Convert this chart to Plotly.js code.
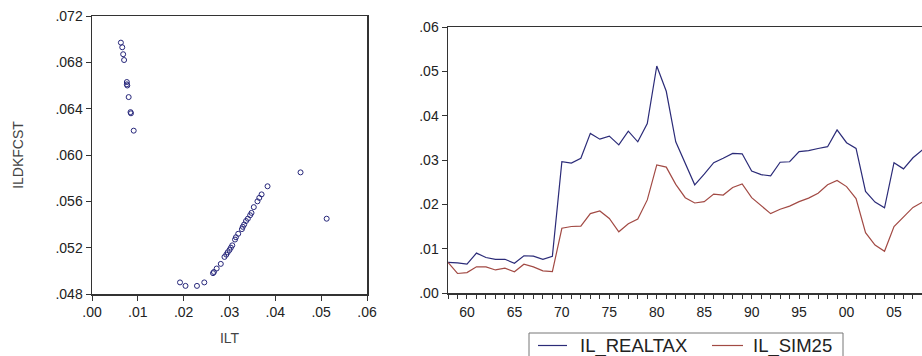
<!DOCTYPE html>
<html>
<head>
<meta charset="utf-8">
<script src="https://cdn.plot.ly/plotly-3.0.1.min.js"></script>
<style>html,body{margin:0;padding:0;background:#fff;}#chart{width:922px;height:356px;}</style>
</head>
<body>
<div id="chart"></div>
<script>
// Scatter: ILT (x) vs ILDKFCST (y)
const iltValues = [0.0063,0.0066,0.0068,0.0070,0.0076,0.0076,0.0077,0.0080,0.0084,0.0085,0.0091,
  0.0192,0.0204,0.0229,0.0245,0.0264,0.0266,0.0272,0.0281,0.0289,0.0293,0.0296,0.0300,0.0303,0.0306,
  0.0312,0.0314,0.0319,0.0327,0.0329,0.0332,0.0336,0.0340,0.0345,0.0348,0.0353,0.0361,0.0365,0.0370,
  0.0383,0.0455,0.0512];
const ildkfcstValues = [0.0697,0.0693,0.0687,0.0682,0.0663,0.0661,0.0660,0.0650,0.0637,0.0636,0.0621,
  0.0490,0.0487,0.0487,0.0490,0.0498,0.0499,0.0502,0.0506,0.0512,0.0514,0.0516,0.0518,0.0520,0.0522,
  0.0527,0.0529,0.0532,0.0536,0.0538,0.0540,0.0543,0.0545,0.0548,0.0550,0.0555,0.0560,0.0563,0.0566,
  0.0573,0.0585,0.0545];

// Time series
const years = [1958,1959,1960,1961,1962,1963,1964,1965,1966,1967,1968,1969,1970,1971,1972,1973,1974,1975,1976,1977,
  1978,1979,1980,1981,1982,1983,1984,1985,1986,1987,1988,1989,1990,1991,1992,1993,1994,1995,1996,1997,
  1998,1999,2000,2001,2002,2003,2004,2005,2006,2007,2008];
const ilRealtax = [0.0069,0.0068,0.0065,0.0090,0.0080,0.0076,0.0076,0.0067,0.0084,0.0083,0.0076,0.0083,0.0296,0.0293,0.0304,0.0360,0.0347,0.0354,0.0334,0.0365,
  0.0341,0.0382,0.0512,0.0455,0.0341,0.0294,0.0244,0.0268,0.0294,0.0304,0.0315,0.0314,0.0275,0.0267,0.0264,0.0295,0.0296,0.0319,0.0321,0.0326,
  0.0330,0.0368,0.0339,0.0326,0.0229,0.0205,0.0192,0.0294,0.0280,0.0305,0.0323];
const ilSim25 = [0.0069,0.0044,0.0046,0.0059,0.0059,0.0052,0.0056,0.0048,0.0065,0.0059,0.0050,0.0048,0.0146,0.0150,0.0151,0.0179,0.0185,0.0168,0.0138,0.0156,
  0.0167,0.0210,0.0289,0.0284,0.0245,0.0215,0.0203,0.0206,0.0223,0.0221,0.0238,0.0246,0.0215,0.0196,0.0179,0.0189,0.0196,0.0206,0.0214,0.0225,
  0.0244,0.0254,0.0240,0.0213,0.0136,0.0108,0.0094,0.0150,0.0172,0.0193,0.0205];
const seriesNames = ['IL_REALTAX','IL_SIM25'];
const seriesColors = ['#2b2b78','#a24a44'];

// Tick labels
const scatterXTickVals = [0,0.01,0.02,0.03,0.04,0.05,0.06];
const scatterXTickText = ['.00','.01','.02','.03','.04','.05','.06'];
const scatterYTickVals = [0.048,0.052,0.056,0.060,0.064,0.068,0.072];
const scatterYTickText = ['.048','.052','.056','.060','.064','.068','.072'];
const lineYTickVals = [0,0.01,0.02,0.03,0.04,0.05,0.06];
const lineYTickText = ['.00','.01','.02','.03','.04','.05','.06'];
const lineXTickVals = [1960,1965,1970,1975,1980,1985,1990,1995,2000,2005];
const lineXTickText = ['60','65','70','75','80','85','90','95','00','05'];

const FONT = 'Liberation Sans, Arial, sans-serif';
const tickFont = {family:FONT, size:14, color:'#222'};
const axisCommon = {showgrid:false, zeroline:false, linecolor:'#333', linewidth:1.5,
  ticks:'outside', ticklen:5, tickwidth:1, tickcolor:'#333', tickfont:tickFont, showline:true};

const traces = [
  {x: iltValues, y: ildkfcstValues, type:'scatter', mode:'markers', xaxis:'x', yaxis:'y',
   marker:{symbol:'circle-open', size:5, color:'#26267a', line:{width:1, color:'#26267a'}}, showlegend:false, hoverinfo:'skip'},
  {x: years, y: ilRealtax, type:'scatter', mode:'lines', xaxis:'x2', yaxis:'y2', name:seriesNames[0],
   line:{color:seriesColors[0], width:1.2}, showlegend:false},
  {x: years, y: ilSim25, type:'scatter', mode:'lines', xaxis:'x2', yaxis:'y2', name:seriesNames[1],
   line:{color:seriesColors[1], width:1.2}, showlegend:false}
];

// manual legend (EViews style box below the line chart)
const px = v => v/922, py = v => (356 - v)/356;
const legendShapes = [
  {type:'rect', xref:'paper', yref:'paper', x0:px(529), x1:px(843), y0:py(333), y1:py(362), line:{color:'#777', width:1}, fillcolor:'rgba(0,0,0,0)'},
  {type:'line', xref:'paper', yref:'paper', x0:px(538), x1:px(567), y0:py(345.5), y1:py(345.5), line:{color:seriesColors[0], width:1.2}},
  {type:'line', xref:'paper', yref:'paper', x0:px(712), x1:px(743), y0:py(345.5), y1:py(345.5), line:{color:seriesColors[1], width:1.2}}
];
const legendAnnotations = [
  {xref:'paper', yref:'paper', x:px(578), y:py(345.5), xanchor:'left', yanchor:'middle', text:seriesNames[0], showarrow:false, font:{family:FONT, size:18.5, color:'#222'}},
  {xref:'paper', yref:'paper', x:px(751), y:py(345.5), xanchor:'left', yanchor:'middle', text:seriesNames[1], showarrow:false, font:{family:FONT, size:18.5, color:'#222'}}
];

const layout = {
  width:922, height:356,
  margin:{l:0, r:0, t:0, b:0},
  paper_bgcolor:'#fff', plot_bgcolor:'#fff',
  font:{family:FONT},
  showlegend:false,
  xaxis: Object.assign({}, axisCommon, {domain:[92/922, 367/922], range:[0,0.06], mirror:true,
    tickvals: scatterXTickVals, ticktext: scatterXTickText,
    title:{text:'ILT', font:{size:14, color:'#444'}, standoff:14}}),
  yaxis: Object.assign({}, axisCommon, {domain:[(356-294)/356, (356-16)/356], range:[0.048,0.072], mirror:true,
    tickvals: scatterYTickVals, ticktext: scatterYTickText,
    title:{text:'ILDKFCST', font:{size:14, color:'#444'}, standoff:28}}),
  xaxis2: Object.assign({}, axisCommon, {domain:[448/922, 1], range:[1958, 2007.95], mirror:true,
    anchor:'y2', tickvals: lineXTickVals, ticktext: lineXTickText, ticklen:4, ticklabelstandoff:2,
    minor:{dtick:1, tick0:1958, ticks:'outside', ticklen:4, tickcolor:'#333', tickwidth:1}}),
  yaxis2: Object.assign({}, axisCommon, {domain:[(356-293)/356, (356-27)/356], range:[0,0.06],
    anchor:'x2', tickvals: lineYTickVals, ticktext: lineYTickText}),
  shapes: legendShapes,
  annotations: legendAnnotations
};

Plotly.newPlot('chart', traces, layout, {staticPlot:true, displayModeBar:false});
</script>
</body>
</html>
